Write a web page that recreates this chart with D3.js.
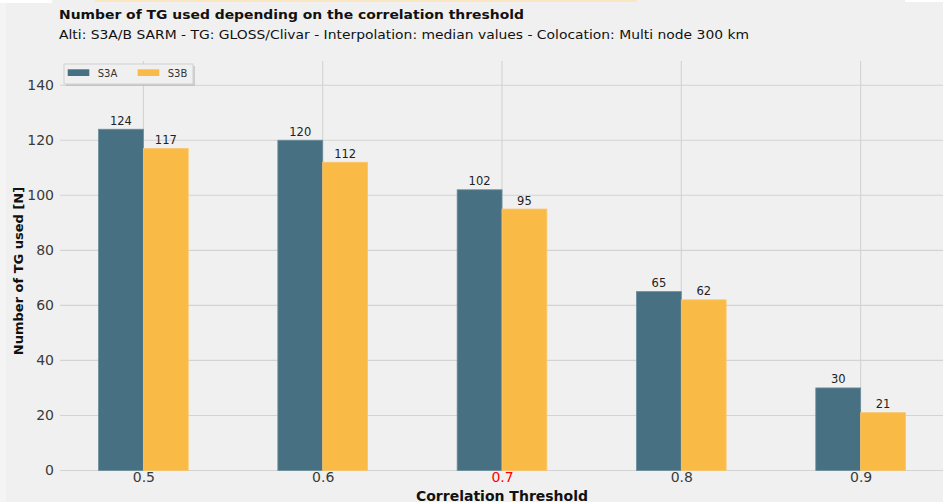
<!DOCTYPE html>
<html><head><meta charset="utf-8">
<script src="https://cdn.jsdelivr.net/npm/d3@7"></script>
<style>html,body{margin:0;padding:0;background:#f0f0f0;}svg{display:block;}</style>
</head><body>
<svg id="chart" width="943" height="502"></svg>
<script>
const categories = ["0.5", "0.6", "0.7", "0.8", "0.9"];
const seriesNames = ["S3A", "S3B"];
const s3a = [124, 120, 102, 65, 30];
const s3b = [117, 112, 95, 62, 21];
const yTicks = [0, 20, 40, 60, 80, 100, 120, 140];
const colors = ["#477082", "#fabb46"];
const highlightCat = "0.7";

const svg = d3.select("#chart");
const W = 943, H = 502;
svg.append("rect").attr("width", W).attr("height", H).attr("fill", "#f0f0f0");
svg.append("rect").attr("x", 0).attr("y", 0).attr("width", 6).attr("height", H).attr("fill", "#f4f4f4");
// top strip remnants
svg.append("rect").attr("x", 0).attr("y", 0).attr("width", 52).attr("height", 3).attr("fill", "#ffffff");
svg.append("rect").attr("x", 905).attr("y", 0).attr("width", 38).attr("height", 2).attr("fill", "#ffffff");
svg.append("rect").attr("x", 95).attr("y", 0).attr("width", 542).attr("height", 2).attr("fill", "#fbe6c2");

const pLeft = 60, pRight = 944, pTop = 61, pBottom = 470.5;
const yMax = d3.max(s3a.concat(s3b)) * 1.2;

const x = d3.scalePoint().domain(categories).range([pLeft, pRight]).padding(0.465);
const y = d3.scaleLinear().domain([0, yMax]).range([pBottom, pTop]);
const bw = x.step() * 0.25;

const g = svg.append("g");
// grid
g.selectAll(".hg").data(yTicks).enter().append("line")
  .attr("x1", pLeft).attr("x2", pRight).attr("y1", d => y(d)).attr("y2", d => y(d))
  .attr("stroke", "#d3d3d3").attr("stroke-width", 1.1);
g.selectAll(".vg").data(categories).enter().append("line")
  .attr("x1", d => x(d)).attr("x2", d => x(d)).attr("y1", pTop).attr("y2", pBottom)
  .attr("stroke", "#d3d3d3").attr("stroke-width", 1.1);

// bars
const series = [s3a, s3b];
series.forEach((vals, si) => {
  g.selectAll(".bar" + si).data(vals).enter().append("rect")
    .attr("x", (d, i) => x(categories[i]) + (si === 0 ? -bw : 0))
    .attr("y", d => y(d))
    .attr("width", bw)
    .attr("height", d => y(0) - y(d))
    .attr("fill", colors[si])
    .attr("stroke", si === 0 ? "#6a8c9b" : "#f8c56a")
    .attr("stroke-width", 0.8);
  g.selectAll(".lab" + si).data(vals).enter().append("text")
    .attr("x", (d, i) => x(categories[i]) + (si === 0 ? -bw / 2 : bw / 2))
    .attr("y", d => y(d) - 4.5)
    .attr("text-anchor", "middle")
    .attr("font-family", "DejaVu Sans")
    .attr("font-size", "11.5px")
    .attr("fill", "#222")
    .text(d => d);
});

// y axis
const yAxis = d3.axisLeft(y).tickValues(yTicks).tickSize(0).tickPadding(6);
const ya = svg.append("g").attr("transform", `translate(${pLeft},0)`).call(yAxis);
ya.select(".domain").remove();
ya.selectAll("text").attr("font-family", "DejaVu Sans").attr("font-size", "14px").attr("fill", "#3a3a3a");

// x axis
const xAxis = d3.axisBottom(x).tickSize(0).tickPadding(2);
const xa = svg.append("g").attr("transform", `translate(0,${pBottom})`).call(xAxis);
xa.select(".domain").remove();
xa.selectAll("text").attr("font-family", "DejaVu Sans").attr("font-size", "14px")
  .attr("fill", d => d === highlightCat ? "#ff0000" : "#3a3a3a");

// axis labels
svg.append("text").attr("x", x(categories[2])).attr("y", 500.5)
  .attr("text-anchor", "middle").attr("font-family", "DejaVu Sans").attr("font-weight", "bold")
  .attr("font-size", "14px").attr("fill", "#111").text("Correlation Threshold");
svg.append("text").attr("transform", "translate(23,271) rotate(-90)")
  .attr("text-anchor", "middle").attr("font-family", "DejaVu Sans").attr("font-weight", "bold")
  .attr("font-size", "13px").attr("fill", "#111").text("Number of TG used [N]");

// titles
svg.append("text").attr("x", 59).attr("y", 19).attr("font-family", "DejaVu Sans").attr("font-weight", "bold")
  .attr("font-size", "13px").attr("fill", "#111").attr("textLength", 465).attr("lengthAdjust", "spacingAndGlyphs")
  .text("Number of TG used depending on the correlation threshold");
svg.append("text").attr("x", 59).attr("y", 39).attr("font-family", "DejaVu Sans")
  .attr("font-size", "13px").attr("fill", "#111").attr("textLength", 690).attr("lengthAdjust", "spacingAndGlyphs")
  .text("Alti: S3A/B SARM - TG: GLOSS/Clivar - Interpolation: median values - Colocation: Multi node 300 km");

// legend
const lg = svg.append("g").attr("transform", "translate(64,64)");
lg.append("rect").attr("x", 2).attr("y", 2).attr("width", 129).attr("height", 20).attr("fill", "#b8b8b8").attr("opacity", 0.6);
lg.append("rect").attr("x", 0).attr("y", 0).attr("width", 129).attr("height", 20).attr("fill", "#f0f0f0").attr("stroke", "#d0d0d0").attr("stroke-width", 1);
seriesNames.forEach((n, i) => {
  const ox = 3.7 + i * 70;
  lg.append("rect").attr("x", ox).attr("y", 5.3).attr("width", 21.6).attr("height", 6.7).attr("fill", colors[i]);
  lg.append("text").attr("x", ox + 30).attr("y", 12.8).attr("font-family", "DejaVu Sans").attr("font-size", "10px")
    .attr("fill", "#333").text(n);
});
</script>
</body></html>
